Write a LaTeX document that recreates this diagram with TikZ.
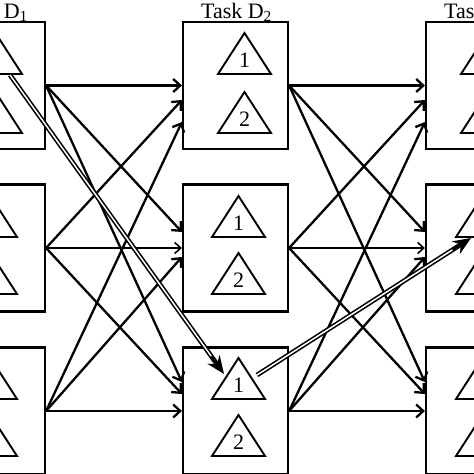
\documentclass[tikz,border=0pt]{standalone}
\usepackage{fontspec}
\setmainfont{Liberation Serif}
\usetikzlibrary{arrows.meta,calc}
\newcommand{\mytri}[3]{%
  \draw[tri] (#1,#2) -- ({#1+26.5},{#2+41}) -- ({#1-26.5},{#2+41}) -- cycle;
  \node[lab] at (#1,{#2+27}) {#3};}
\begin{document}
\begin{tikzpicture}[x=1pt,y=-1pt,
  box/.style={draw, line width=2.2pt, minimum width=105pt, minimum height=127pt, inner sep=0pt},
  tri/.style={draw, line width=1.9pt, line join=miter},
  lab/.style={font=\fontsize{22}{22}\selectfont, inner sep=0pt},
  ttl/.style={font=\fontsize{22}{22}\selectfont, inner sep=0pt, anchor=base},
  arr/.style={line width=2.3pt, -{Straight Barb[length=7pt,width=13pt,line width=2.3pt]}},
  thinarr/.style={line width=1.6pt, -{Straight Barb[length=6pt,width=11pt,line width=1.6pt]}},
  hl/.style={double, line width=1.6pt, double distance=1.5pt, shorten >=10pt},
  hltip/.style={line width=2pt, -{Stealth[length=18pt,width=15pt,inset=6pt]}}]
\useasboundingbox (0,0) rectangle (474,474);
\fill[white] (0,0) rectangle (474,474);
% boxes
\foreach \c/\x in {1/-7.5,2/235.5,3/478.5}{
  \node[box] (b\c1) at (\x,85.5) {};
  \node[box] (b\c2) at (\x,248) {};
  \node[box] (b\c3) at (\x,411) {};
}
% titles
\node[ttl] (t1) at (-7.5,18) {Task D\textsubscript{1}};
\node[ttl] (t2) at (236.5,18) {Task D\textsubscript{2}};
\node[ttl] (t3) at (479.5,18) {Task D\textsubscript{3}};
% triangles
\foreach \cx in {-4.5,244.5,487.5}{\mytri{\cx}{33}{1}\mytri{\cx}{92}{2}}
\foreach \cx in {-9.5,238.5,482.5}{\mytri{\cx}{196}{1}\mytri{\cx}{253}{2}\mytri{\cx}{358}{1}\mytri{\cx}{415}{2}}
% connectors
\foreach \a/\b in {1/2,2/3}{
  \draw[arr] (b\a1.east) -- (b\b1.west);
  \draw[arr] (b\a1.east) -- ($(b\b2.west)+(0,-16)$);
  \draw[arr] (b\a1.east) -- ($(b\b3.west)+(0,-29)$);
  \draw[arr] (b\a2.east) -- ($(b\b1.west)+(0,14.5)$);
  \draw[thinarr] (b\a2.east) -- (b\b2.west);
  \draw[arr] (b\a2.east) -- ($(b\b3.west)+(0,-17)$);
  \draw[arr] (b\a3.east) -- ($(b\b1.west)+(0,36.5)$);
  \draw[arr] (b\a3.east) -- ($(b\b2.west)+(0,9)$);
  \draw[arr] (b\a3.east) -- (b\b3.west);
}
% highlighted path
\coordinate (s1) at (10,75);
\coordinate (e1) at (224,374);
\coordinate (s2) at (257,375);
\coordinate (e2) at (471,238);
\draw[hl] (s1) -- (e1);
\draw[hltip] ($(e1)!22pt!(s1)$) -- (e1);
\draw[hl] (s2) -- (e2);
\draw[hltip] ($(e2)!22pt!(s2)$) -- (e2);
\end{tikzpicture}
\end{document}
